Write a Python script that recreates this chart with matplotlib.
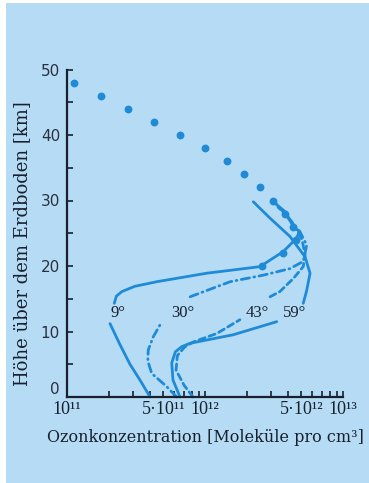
import matplotlib
matplotlib.use("Agg")
import matplotlib.pyplot as plt
import matplotlib.patches as mpatches
from matplotlib.ticker import FixedLocator, NullFormatter

BLUE = "#1f8bd6"
BG = "#b6dcf5"
INK = "#18202e"

# measured profile (dots): height [km], ozone [molecules/cm^3]
dot_h = [48, 46, 44, 42, 40, 38, 36, 34, 32, 30, 28, 26, 24, 22, 20]
dot_x = [1.12e11, 1.76e11, 2.75e11, 4.27e11, 6.6e11, 1.0e12, 1.45e12, 1.92e12,
         2.5e12, 3.13e12, 3.8e12, 4.37e12, 4.6e12, 3.66e12, 2.58e12]

# 9 deg (solid)
lat9_low_h = [0, 2.5, 5, 8, 11.2]
lat9_low_x = [4.0e11, 3.4e11, 2.86e11, 2.42e11, 2.05e11]
lat9_up_h = [14.3, 15.4, 16.1, 16.9, 17.6, 18.9, 19.9, 22.2, 24.0, 25.2, 26.0, 28.3, 29.8]
lat9_up_x = [2.2e11, 2.28e11, 2.5e11, 3.1e11, 4.47e11, 1.03e12, 2.5e12, 3.69e12,
             4.49e12, 4.88e12, 4.37e12, 3.8e12, 3.13e12]

# 30 deg (dash-dot)
lat30_low_h = [0, 1.6, 3.6, 5.5, 7.2, 9.2, 11.0]
lat30_low_x = [6.24e11, 5.27e11, 4.11e11, 3.85e11, 3.88e11, 4.22e11, 4.72e11]
lat30_up_h = [15.3, 17.6, 18.6, 19.6, 20.7, 23.2, 25.2, 27.5, 29.0]
lat30_up_x = [7.8e11, 1.52e12, 2.64e12, 4.13e12, 5.15e12, 5.46e12, 4.88e12,
              3.99e12, 3.38e12]

# 43 deg (dashed)
lat43_low_h = [0, 1.8, 4.1, 6.3, 7.6, 8.4, 9.7, 11.8]
lat43_low_x = [8.19e11, 7.05e11, 6.17e11, 6.3e11, 7.1e11, 8.22e11, 1.22e12, 1.79e12]
lat43_up_h = [15.3, 16.1, 18.1, 19.9, 21.7, 24.0, 26.4, 28.5, 29.5]
lat43_up_x = [2.96e12, 3.49e12, 4.37e12, 5.15e12, 5.31e12, 5.05e12, 4.35e12,
              3.61e12, 3.27e12]

# 59 deg (solid)
lat59_low_h = [0, 2.6, 5.2, 6.9, 7.7, 8.2, 9.5, 11.5]
lat59_low_x = [6.59e11, 5.86e11, 5.74e11, 6.1e11, 6.8e11, 7.79e11, 1.6e12, 3.31e12]
lat59_up_h = [14.3, 16.3, 18.9, 21.4, 24.5, 27.3, 29.8]
lat59_up_x = [5.15e12, 5.46e12, 5.77e12, 5.31e12, 4.13e12, 2.96e12, 2.24e12]

curve_labels = ["9°", "30°", "43°", "59°"]
label_x = [2.34e11, 6.9e11, 2.38e12, 4.49e12]
label_h = 12.8

x_major = [1e11, 5e11, 1e12, 5e12, 1e13]
x_major_labels = ["10¹¹", "5·10¹¹", "10¹²", "5·10¹²", "10¹³"]
x_minor = [2e11, 3e11, 4e11, 6e11, 7e11, 8e11, 9e11,
           2e12, 3e12, 4e12, 6e12, 7e12, 8e12, 9e12]

SERIF = ["Liberation Serif", "DejaVu Serif"]
WIDE_SERIF = ["DejaVu Serif"]

fig = plt.figure(figsize=(3.69, 4.83), dpi=100)
fig.patch.set_facecolor("white")
fig.patches.append(mpatches.Rectangle((6 / 369, 0), 1, 480 / 483,
                                      transform=fig.transFigure,
                                      facecolor=BG, edgecolor="none", zorder=-5))

ax = fig.add_axes([67 / 369, 86 / 483, 276 / 369, 327.5 / 483])
ax.set_zorder(2)
ax.set_facecolor("none")
ax.set_xscale("log")
ax.set_xlim(1e11, 1e13)
ax.set_ylim(0, 50)

lw = 2.0
kw = dict(color=BLUE, lw=lw, solid_capstyle="round", dash_capstyle="round",
          solid_joinstyle="round", clip_on=False)
ax.plot(lat9_low_x, lat9_low_h, **kw)
ax.plot(lat9_up_x, lat9_up_h, **kw)
ax.plot(lat59_low_x, lat59_low_h, **kw)
ax.plot(lat59_up_x, lat59_up_h, **kw)
ax.plot(lat30_low_x, lat30_low_h, dashes=[3.0, 1.6, 0.3, 1.6], **kw)
ax.plot(lat30_up_x, lat30_up_h, dashes=[3.0, 1.6, 0.3, 1.6], **kw)
ax.plot(lat43_low_x, lat43_low_h, dashes=[2.3, 1.5], **kw)
ax.plot(lat43_up_x, lat43_up_h, dashes=[2.3, 1.5], **kw)
ax.scatter(dot_x, dot_h, s=32, color=BLUE, zorder=3, clip_on=False, linewidths=0)

for lab, lx in zip(curve_labels, label_x):
    ax.text(lx, label_h, lab, ha="center", va="center", fontsize=12,
            family=SERIF, color=INK)

for s in ["top", "right"]:
    ax.spines[s].set_visible(False)
for s in ["left", "bottom"]:
    ax.spines[s].set_linewidth(1.6)
    ax.spines[s].set_color(INK)

ax.xaxis.set_major_locator(FixedLocator(x_major))
ax.set_xticklabels(x_major_labels, family=SERIF, fontsize=13, color=INK)
ax.xaxis.set_minor_locator(FixedLocator(x_minor))
ax.xaxis.set_minor_formatter(NullFormatter())
ax.set_yticks([0, 10, 20, 30, 40, 50])
ax.set_yticks([5, 15, 25, 35, 45], minor=True)
ax.tick_params(axis="both", which="both", direction="in", length=4, width=1.2,
               color=INK)
ax.tick_params(axis="y", labelsize=11, labelcolor="#2a3040", pad=5)
ax.tick_params(axis="x", pad=3)
ax.get_yticklabels()[0].set_va("bottom")

ax.set_xlabel("Ozonkonzentration [Moleküle pro cm³]", family=WIDE_SERIF,
              fontsize=11.5, color=INK)
ax.xaxis.set_label_coords(0.5, -0.098)
ax.set_ylabel("Höhe über dem Erdboden [km]", family=WIDE_SERIF, fontsize=13,
              color=INK, va="center")
ax.yaxis.set_label_coords(-0.163, 0.467)

fig.savefig("out.png", dpi=100, facecolor=fig.get_facecolor())
